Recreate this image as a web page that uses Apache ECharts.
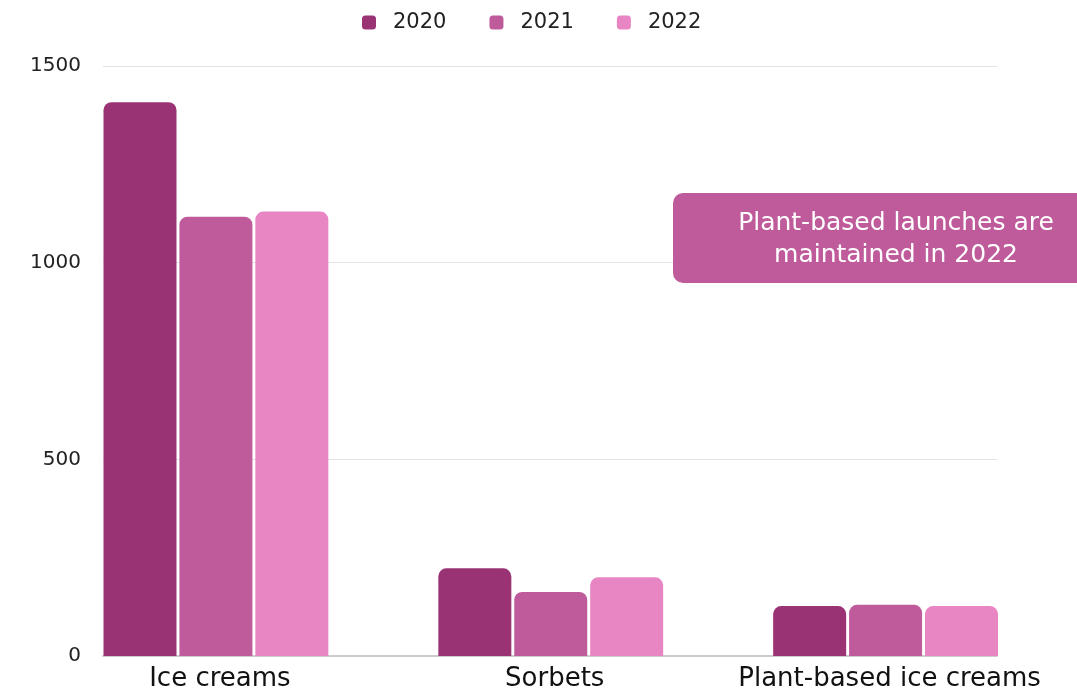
<!DOCTYPE html>
<html>
<head>
<meta charset="utf-8">
<script src="https://cdn.jsdelivr.net/npm/echarts@6/dist/echarts.min.js"></script>
<style>
html,body{margin:0;padding:0;background:#fff;}
#c{width:1077px;height:695px;}
</style>
</head>
<body>
<div id="c"></div>
<script>
const categories = ['Ice creams', 'Sorbets', 'Plant-based ice creams'];
const years = ['2020', '2021', '2022'];
const v2020 = [1408, 223, 127];
const v2021 = [1117, 163, 130];
const v2022 = [1130, 200, 127];
const yTicks = [0, 500, 1000, 1500];
const colors = ['#9A3374', '#BF5B9B', '#E886C4'];
const noteLines = ['Plant-based launches are', 'maintained in 2022'];

const FONT = '"DejaVu Sans", sans-serif';
const chart = echarts.init(document.getElementById('c'), null, {renderer: 'canvas'});
const seriesData = [v2020, v2021, v2022];

const option = {
  animation: false,
  color: colors,
  textStyle: {fontFamily: FONT},
  legend: {
    data: years,
    top: 7,
    left: 357,
    itemWidth: 14,
    itemHeight: 14,
    itemGap: 43,
    icon: 'roundRect',
    textStyle: {fontSize: 21, color: '#222', fontFamily: FONT, padding: [0, 0, 0, 12]}
  },
  grid: [
    {left: 103, right: 80, top: 66, bottom: 39},
    {left: 48.5, right: 24, top: 66, bottom: 39}
  ],
  xAxis: [
    {gridIndex: 0, type: 'category', data: categories, axisLine: {show: true, lineStyle: {color: '#cccccc', width: 2}},
      axisTick: {show: false}, axisLabel: {show: false}, splitLine: {show: false}},
    {gridIndex: 1, type: 'category', data: categories, axisLine: {show: false}, axisTick: {show: false},
      axisLabel: {interval: 0, fontSize: 26, color: '#111', margin: 10, fontFamily: FONT, padding: [0, 0, 0, 8]}}
  ],
  yAxis: [
    {gridIndex: 0, type: 'value', min: 0, max: 1500, interval: 500,
      axisLine: {show: false}, axisTick: {show: false},
      axisLabel: {fontSize: 20, color: '#222', margin: 22, fontFamily: FONT, padding: [0, 0, 8, 0],
        formatter: v => yTicks.includes(v) ? String(v) : ''},
      splitLine: {lineStyle: {color: '#e3e3e3', width: 1}}},
    {gridIndex: 1, type: 'value', min: 0, max: 1500, interval: 500, show: false, splitLine: {show: false}}
  ],
  series: years.map((y, i) => ({
    name: y,
    type: 'bar',
    xAxisIndex: 1,
    yAxisIndex: 1,
    data: seriesData[i],
    barWidth: 73,
    barGap: '4%',
    itemStyle: {color: colors[i], borderRadius: [8, 8, 0, 0]},
    z: 3
  })),
  graphic: [
    {type: 'group', left: 673, top: 193, z: 100, children: [
      {type: 'rect', z: 100, shape: {x: 0, y: 0, width: 446, height: 90, r: 10}, style: {fill: '#BF5B9B'}},
      {type: 'text', z: 101, x: 223, y: 46, style: {text: noteLines.join('\n'), fill: '#fff', font: '25px ' + FONT,
        align: 'center', verticalAlign: 'middle', lineHeight: 32}}
    ]}
  ]
};
chart.setOption(option);
</script>
</body>
</html>
